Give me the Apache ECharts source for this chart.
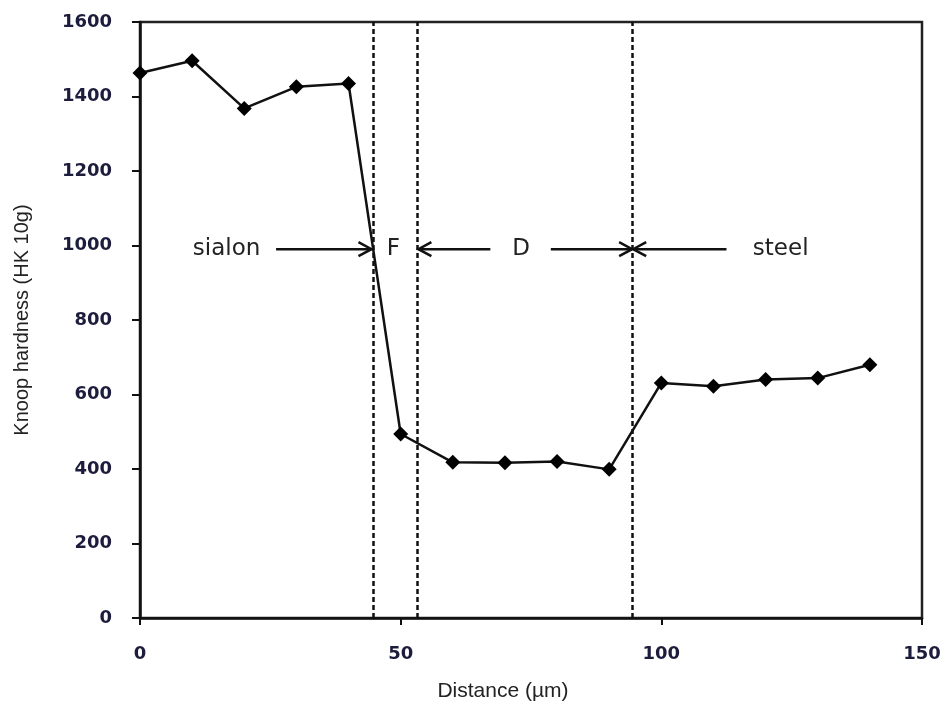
<!DOCTYPE html>
<html>
<head>
<meta charset="utf-8">
<script src="https://cdn.jsdelivr.net/npm/echarts@6/dist/echarts.min.js"></script>
<style>
  html, body { margin: 0; padding: 0; background: #fff; }
  #chart { width: 947px; height: 707px; }
</style>
</head>
<body>
<div id="chart"></div>
<script>
// Knoop hardness profile across the sialon / steel joint
const distance = [0, 10, 20, 30, 40, 50, 60, 70, 80, 90, 100, 110, 120, 130, 140];
const hardness = [1463, 1496, 1368, 1426, 1435, 494, 418, 417, 420, 399, 631, 622, 640, 644, 680];

// Zone boundaries (µm)
const boundaries = [44.8, 53.2, 94.5];

// Zone arrows: [tail x, head x, y]
const arrows = [
  [26.1, 44.4, 990],
  [67.2, 53.4, 990],
  [78.8, 94.4, 990],
  [112.5, 94.6, 990]
];

// Zone names: [x, y, text]
const zoneLabels = [
  [16.6, 990, 'sialon'],
  [48.6, 990, 'F'],
  [73.1, 990, 'D'],
  [122.9, 990, 'steel']
];

const xTicks = { min: 0, max: 150, interval: 50 };
const yTicks = { min: 0, max: 1600, interval: 200 };

const tickColor = '#1c1c3c';
const chart = echarts.init(document.getElementById('chart'));

chart.setOption({
  animation: false,
  backgroundColor: '#fff',
  grid: {
    left: 140, right: 25, top: 22, bottom: 89,
    show: true, borderColor: '#222', borderWidth: 2.5, backgroundColor: 'transparent'
  },
  xAxis: {
    type: 'value',
    min: xTicks.min, max: xTicks.max, interval: xTicks.interval,
    name: 'Distance (\u00b5m)',
    nameLocation: 'middle',
    nameGap: 63,
    nameTextStyle: { fontFamily: 'Liberation Sans', fontSize: 21, color: '#222', padding: [0, 56, 0, 0] },
    axisLine: { lineStyle: { color: '#111', width: 2.5 } },
    axisTick: { show: true, length: 7, lineStyle: { color: '#111', width: 2 } },
    axisLabel: {
      margin: 27, fontFamily: 'DejaVu Sans', fontWeight: 'bold', fontSize: 18, color: tickColor,
      formatter: v => String(v)
    },
    splitLine: { show: false }
  },
  yAxis: {
    type: 'value',
    min: yTicks.min, max: yTicks.max, interval: yTicks.interval,
    name: 'Knoop hardness (HK 10g)',
    nameLocation: 'middle',
    nameGap: 108,
    nameTextStyle: { fontFamily: 'Liberation Sans', fontSize: 20, color: '#222' },
    axisLine: { show: true, lineStyle: { color: '#111', width: 2.5 } },
    axisTick: { show: true, length: 8, lineStyle: { color: '#111', width: 2 } },
    axisLabel: {
      margin: 28, fontFamily: 'DejaVu Sans', fontWeight: 'bold', fontSize: 18, color: tickColor,
      formatter: v => String(v)
    },
    splitLine: { show: false }
  },
  series: [
    {
      type: 'line',
      data: distance.map((d, i) => [d, hardness[i]]),
      symbol: 'diamond',
      symbolSize: 15,
      itemStyle: { color: '#000' },
      lineStyle: { color: '#111', width: 2.5 },
      z: 5,
      markLine: {
        silent: true,
        symbol: 'none',
        label: { show: false },
        lineStyle: { color: '#111', width: 2.5, type: [5, 3] },
        data: boundaries.map(b => ({ xAxis: b }))
      }
    },
    {
      type: 'custom',
      data: arrows,
      silent: true,
      z: 4,
      renderItem: function (params, api) {
        const tail = api.coord([api.value(0), api.value(2)]);
        const head = api.coord([api.value(1), api.value(2)]);
        const dir = head[0] >= tail[0] ? 1 : -1;
        const style = { stroke: '#111', lineWidth: 2.5, fill: null };
        return {
          type: 'group',
          children: [
            { type: 'line', shape: { x1: tail[0], y1: tail[1], x2: head[0], y2: head[1] }, style: style },
            { type: 'polyline', shape: { points: [[head[0] - dir * 13, head[1] - 7], head, [head[0] - dir * 13, head[1] + 7]] }, style: style }
          ]
        };
      }
    },
    {
      type: 'custom',
      data: zoneLabels,
      silent: true,
      z: 6,
      renderItem: function (params, api) {
        const p = api.coord([api.value(0), api.value(1)]);
        return {
          type: 'text',
          x: p[0], y: p[1],
          style: {
            text: zoneLabels[params.dataIndex][2],
            fontFamily: 'DejaVu Sans', fontSize: 23, fill: '#222',
            align: 'center', verticalAlign: 'middle'
          }
        };
      }
    }
  ]
});
</script>
</body>
</html>
